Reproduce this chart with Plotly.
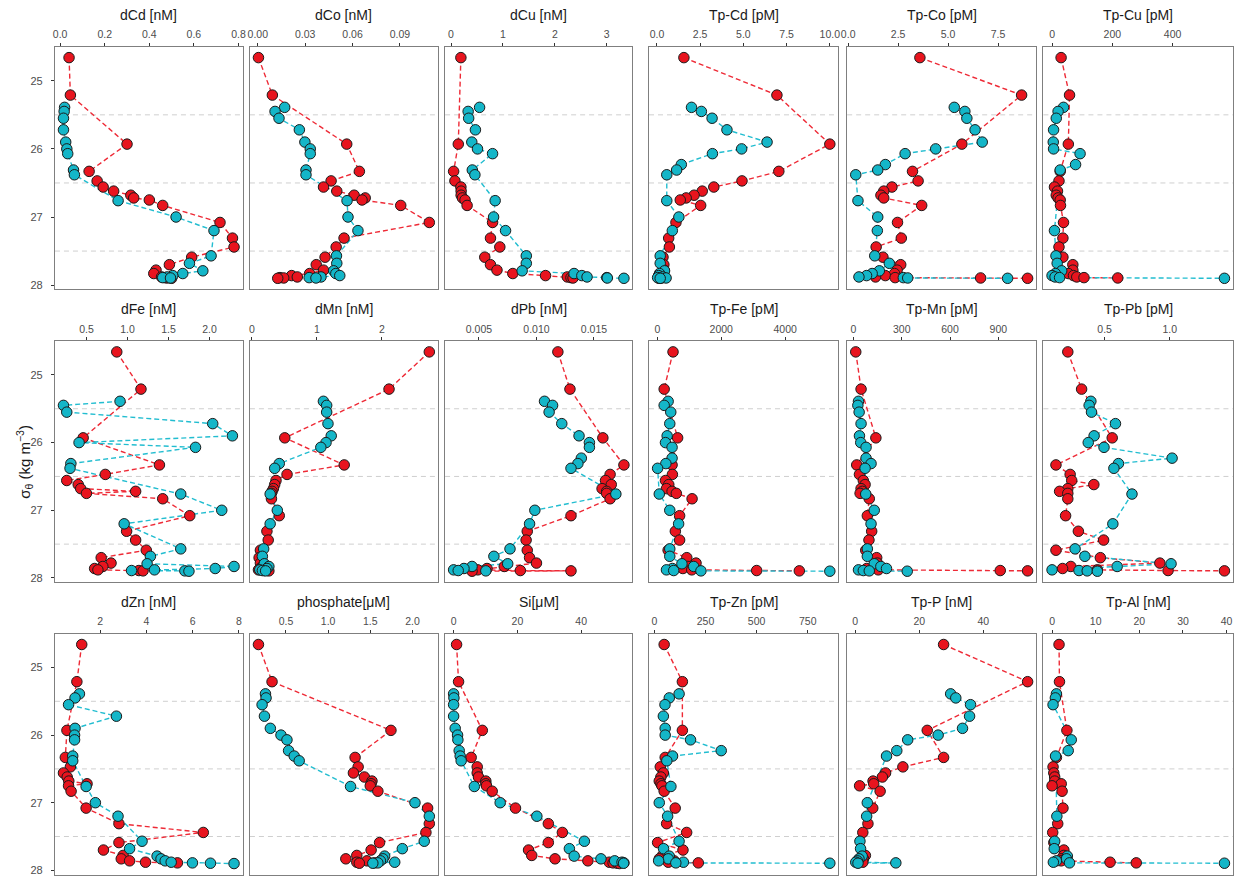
import plotly.graph_objects as go

# ---------------- data ----------------
red_sigma = [24.66, 25.21, 25.93, 26.33, 26.47, 26.56, 26.62, 26.68, 26.72, 26.75, 26.83, 27.08, 27.31, 27.44,
             27.59, 27.70, 27.78, 27.83, 27.86, 27.88, 27.89, 27.895, 27.90]
cyan_sigma = [25.39, 25.45, 25.55, 25.72, 25.90, 26.00, 26.07, 26.23, 26.31, 26.38, 26.76, 27.00, 27.20, 27.57,
              27.68, 27.79, 27.83, 27.86, 27.88, 27.89, 27.895, 27.90]

titles = ["dCd [nM]", "dCo [nM]", "dCu [nM]", "Tp-Cd [pM]", "Tp-Co [pM]", "Tp-Cu [pM]",
          "dFe [nM]", "dMn [nM]", "dPb [nM]", "Tp-Fe [pM]", "Tp-Mn [pM]", "Tp-Pb [pM]",
          "dZn [nM]", "phosphate[μM]", "Si[μM]", "Tp-Zn [pM]", "Tp-P [nM]", "Tp-Al [nM]"]

dCd_red = [0.04, 0.046, 0.30, 0.13, 0.166, 0.193, 0.24, 0.317, 0.33, 0.40, 0.46, 0.717, 0.773, 0.78, 0.59, 0.49, 0.43, 0.42, None, 0.455, 0.47, 0.48, 0.50]
dCd_cyan = [0.02, 0.018, 0.015, 0.015, 0.025, 0.03, 0.034, None, 0.06, 0.064, 0.26, 0.52, 0.69, 0.677, 0.58, 0.64, 0.55, 0.505, 0.48, 0.46, 0.495, None]
dCo_red = [0.0004, 0.0092, 0.0563, 0.0643, 0.0464, 0.0416, 0.050, 0.061, 0.068, 0.066, 0.0905, 0.1086, 0.0546, 0.0496, 0.0426, 0.037, 0.0416, 0.0328, 0.0214, 0.025, 0.014, 0.0164, 0.0126]
dCo_cyan = [0.017, 0.0109, 0.0134, 0.0263, 0.0298, 0.0332, 0.0332, None, 0.0305, 0.0305, 0.0565, 0.0571, 0.0634, 0.0498, 0.05, 0.048, 0.0494, 0.0519, 0.04, 0.0325, 0.0368, None]
dCu_red = [0.19, None, 0.14, 0.05, 0.075, 0.19, 0.195, 0.195, 0.22, 0.27, 0.31, 0.80, 0.76, 0.94, 0.65, 0.76, 0.885, 1.19, 1.82, 2.24, 2.31, 2.35, None]
dCu_cyan = [0.55, 0.33, 0.34, 0.47, 0.40, 0.51, 0.80, None, 0.41, 0.46, 0.85, 0.82, 1.05, 1.45, 1.45, 1.37, 2.37, 2.52, 2.62, 3.0, 3.01, 3.33]
TpCd_red = [1.56, 6.94, 10.0, 7.05, 4.92, 3.29, 2.62, 2.15, 1.69, 1.35, 2.53, 1.1, 0.68, 0.72, 0.35, 0.4, 0.42, 0.3, 0.25, 0.15, 0.2, 0.28, 0.12]
TpCd_cyan = [2.0, 2.57, 3.19, 4.05, 6.37, 4.9, 3.21, 1.41, 1.14, 0.57, 0.57, 1.27, 0.89, 0.19, 0.19, 0.44, 0.15, 0.1, 0.34, 0.04, 0.53, 0.19]
TpCo_red = [3.59, 8.68, 5.69, 3.22, 3.50, 2.19, 1.78, 1.64, 1.78, None, 3.68, 2.47, 2.66, 1.40, 1.74, 2.63, 2.45, 2.32, 1.86, 1.37, 2.35, 6.63, 8.98]
TpCo_cyan = [5.31, 5.84, 5.94, 6.35, 6.71, 4.38, 2.85, 1.86, 1.48, 0.38, 0.49, 1.48, 1.46, 1.33, 2.06, 1.56, 1.2, 0.92, 0.54, 2.76, 2.98, 7.98]
TpCu_red = [30, 58, 54, 27, 23, 8, 18, 14, 20, 27, 28, 38, 36, 23, 36, 69, 69, 54, 71, 82, 106, 218, None]
TpCu_cyan = [38, 20, 14, 5, 4, 5, 93, 78, 27, None, None, None, 8, 13, 17, 32, 11, 0, 10, 25, None, 572]

dFe_red = [0.87, 1.165, 0.46, 1.39, 0.73, 0.26, 0.40, 0.43, 1.10, 0.50, 1.43, 1.76, 0.99, 1.10, 1.23, 0.68, 0.80, 0.70, 0.60, 0.64, 1.14, 1.19, None]
dFe_cyan = [0.91, 0.22, 0.26, 2.04, 2.28, 0.41, 1.83, None, 0.31, 0.30, 1.65, 2.15, 0.96, 1.65, 1.28, 1.24, 2.30, 2.07, 1.33, 1.05, 1.70, 1.75]
dMn_red = [2.73, 2.11, 0.505, 1.42, 0.54, 0.37, 0.35, 0.33, 0.31, 0.30, 0.30, 0.42, 0.23, 0.25, 0.13, 0.11, 0.13, 0.16, 0.13, 0.10, 0.19, 0.26, None]
dMn_cyan = [1.10, 1.15, 1.15, 1.17, 1.22, 1.14, 1.06, None, 0.42, 0.35, 0.28, 0.39, 0.28, 0.18, 0.16, 0.19, 0.26, 0.23, 0.12, 0.16, 0.21, None]
dPb_red = [0.01186, 0.01291, 0.01577, 0.0176, 0.0164, 0.0160, 0.0165, 0.0157, 0.0161, 0.0161, 0.0164, 0.0130, 0.0092, 0.0091, 0.0092, 0.0094, 0.0100, 0.0072, 0.0057, 0.0049, 0.0086, 0.0130, 0.0044]
dPb_cyan = [0.0107, 0.0114, 0.0111, 0.0122, 0.0137, 0.0146, 0.0146, 0.0139, 0.0136, 0.0130, 0.0169, 0.00986, 0.0094, 0.0077, 0.0063, 0.0075, 0.0044, 0.0037, 0.0028, 0.0032, 0.0056, None]
TpFe_red = [492, 215, 636, 462, 472, 256, 359, 287, 462, 595, 1088, 698, 564, 698, 339, 923, 1211, 954, 800, 1077, 3109, 4443, None]
TpFe_cyan = [339, 215, 421, 390, 308, 256, 462, 462, 267, 10, 62, 390, 667, 390, 390, 770, 1139, 472, 287, 513, 1365, 5397]
TpMn_red = [14, 47, 139, 20, 37, 61, 72, 47, 55, 41, 98, 86, 113, 96, 76, 144, 148, 129, 82, 154, 912, 1082, None]
TpMn_cyan = [31, 27, 35, 47, 37, 45, 78, 78, 109, 72, 76, 129, 109, 86, 86, 129, 170, 205, 31, 61, 98, 334]
TpPb_red = [0.217, 0.323, 0.558, 0.126, 0.235, 0.247, 0.417, 0.217, 0.154, 0.217, 0.217, 0.20, 0.298, 0.492, 0.126, 0.467, 0.924, 0.24, 0.177, 0.444, 0.987, 1.42, None]
TpPb_cyan = [0.394, 0.381, 0.399, 0.583, 0.419, 0.374, 0.495, 1.018, 0.606, 0.571, 0.71, None, 0.563, 0.273, 0.348, 1.01, 0.596, None, 0.096, 0.303, 0.366, 0.444]

dZn_red = [1.2, 0.99, 0.56, 0.49, 0.71, 0.41, 0.57, 0.64, 1.43, 0.63, 0.74, 1.39, 2.81, 6.46, 2.81, 2.14, 2.99, 2.91, 3.27, 3.96, 5.34, None, None]
dZn_cyan = [1.1, 0.91, 0.63, 2.7, 0.91, 0.89, 0.89, None, 0.81, 0.81, 1.39, 1.79, 2.77, 3.81, 3.27, 4.46, 4.63, 4.81, 5.07, 5.99, 6.77, 7.79]
phos_red = [0.174, 0.335, 1.745, 1.32, 1.356, 1.30, 1.43, 1.52, 1.51, 1.50, 1.59, 2.18, 2.20, 2.16, 1.61, 1.51, 1.34, 1.21, 1.46, 1.34, 1.55, 1.37, None]
phos_cyan = [0.257, 0.264, 0.217, 0.245, 0.315, 0.441, 0.512, 0.531, 0.598, 0.657, 1.266, 2.03, 2.20, 2.14, 1.88, 1.67, 1.65, 1.62, 1.79, 1.59, 1.53, None]
Si_red = [0.93, 1.55, 9.0, 5.5, 7.4, 7.4, 7.8, 10.1, 10.1, 10.3, 12.1, 19.4, 29.7, 34.1, 29.7, 23.5, 24.5, 31.8, 42.1, 48.8, 50.0, 51.3, 52.0]
Si_cyan = [0.0, 0.1, 0.0, 0.0, 0.5, 1.24, 1.34, 1.75, 2.06, 2.37, 6.5, 14.6, 26.1, 41.0, 36.3, 37.8, 46.2, 50.5, 52.8, 53.4, 53.3, None]
TpZn_red = [48, 137, 137, 53, 29, 44, 32, 24, 32, 37, 48, 102, 60, 158, 16, 140, 40, 24, 97, 68, 215, None, None]
TpZn_cyan = [121, 73, 52, 44, 53, 53, 177, 327, 89, 61, 81, 24, 65, 121, 45, 73, 68, 21, 142, 105, 858, None]
TpP_red = [27.6, 53.8, 22.5, 27.6, 14.9, 9.5, 8.5, 5.6, 5.8, 1.4, 7.8, 5.5, 4.0, 2.4, None, None, 3.2, 2.6, 1.2, 2.4, None, None, None]
TpP_cyan = [29.8, 31.4, 36.0, 35.7, 33.5, 25.9, 16.4, 13.0, 9.8, None, None, 3.8, 3.6, 1.5, 1.7, 2.2, 1.2, 0.7, 0.2, 12.7, 0.9, None]
TpAl_red = [1.6, 1.7, 3.4, 1.0, 0.23, 0.4, 0.6, 0.6, 2.1, 0.0, 2.3, 2.5, 1.3, 0.15, 0.4, 2.7, 2.7, 2.1, 2.1, 13.3, 19.3, None, None]
TpAl_cyan = [1.0, 0.76, 0.23, None, None, None, 4.4, 3.7, 0.8, None, None, None, 1.1, 0.6, 0.5, 3.5, 3.3, 1.0, 0.3, 4.0, 39.5, None]

tick_labels = [
    ["0.0", "0.2", "0.4", "0.6", "0.8"], ["0.00", "0.03", "0.06", "0.09"], ["0", "1", "2", "3"],
    ["0.0", "2.5", "5.0", "7.5", "10.0"], ["0.0", "2.5", "5.0", "7.5"], ["0", "200", "400"],
    ["0.5", "1.0", "1.5", "2.0"], ["0", "1", "2"], ["0.005", "0.010", "0.015"],
    ["0", "2000", "4000"], ["0", "300", "600", "900"], ["0.5", "1.0"],
    ["2", "4", "6", "8"], ["0.5", "1.0", "1.5", "2.0"], ["0", "20", "40"],
    ["0", "250", "500", "750"], ["0", "20", "40"], ["0", "10", "20", "30", "40"],
]
y_ticks = [25, 26, 27, 28]
ref_levels = [25.5, 26.5, 27.5]

red_series = [dCd_red, dCo_red, dCu_red, TpCd_red, TpCo_red, TpCu_red,
              dFe_red, dMn_red, dPb_red, TpFe_red, TpMn_red, TpPb_red,
              dZn_red, phos_red, Si_red, TpZn_red, TpP_red, TpAl_red]
cyan_series = [dCd_cyan, dCo_cyan, dCu_cyan, TpCd_cyan, TpCo_cyan, TpCu_cyan,
               dFe_cyan, dMn_cyan, dPb_cyan, TpFe_cyan, TpMn_cyan, TpPb_cyan,
               dZn_cyan, phos_cyan, Si_cyan, TpZn_cyan, TpP_cyan, TpAl_cyan]

# ---------------- layout geometry (pixels) ----------------
W, H = 1243, 878
col_px = [(49.3, 238.3), (245.7, 435.0), (442.3, 631.0), (647.7, 838.5), (847.3, 1037.7), (1045.0, 1236.0)]
row_px = [(46.7, 290.0), (341.7, 583.5), (635.0, 876.5)]
title_y = [15, 310, 603]

RED = "#E8141E"
CYAN = "#14B6C8"
RED_LINE = "#EE2A36"
CYAN_LINE = "#22BDD0"
FONT = "Liberation Sans, Arial, sans-serif"

fig = go.Figure()
layout = dict(width=W, height=H, autosize=False, margin=dict(l=0, r=0, t=0, b=0),
              paper_bgcolor="white", plot_bgcolor="white", showlegend=False,
              font=dict(family=FONT))
annotations = []
shapes = []

all_sigma = red_sigma + cyan_sigma
smin, smax = min(all_sigma), max(all_sigma)
spad = 0.05 * (smax - smin)
yrange = [smax + spad, smin - spad]


def pairs(vals, sig):
    xs, ys = [], []
    for v, s in zip(vals, sig):
        if v is not None:
            xs.append(v)
            ys.append(s)
    return xs, ys


for i in range(18):
    k = i + 1
    r, c = divmod(i, 6)
    xname = "x" if k == 1 else f"x{k}"
    yname = "y" if k == 1 else f"y{k}"
    rx, ry = pairs(red_series[i], red_sigma)
    cx, cy = pairs(cyan_series[i], cyan_sigma)
    vals = rx + cx
    lo, hi = min(vals), max(vals)
    pad = 0.05 * (hi - lo)
    xr = [lo - pad, hi + pad]

    # lines first (under all points)
    for xs, ys, col in ((rx, ry, RED_LINE), (cx, cy, CYAN_LINE)):
        fig.add_trace(go.Scatter(x=xs, y=ys, mode="lines", xaxis=xname, yaxis=yname,
                                 line=dict(color=col, width=1.4, dash="5px,3px"),
                                 hoverinfo="skip"))
    for xs, ys, col in ((rx, ry, RED), (cx, cy, CYAN)):
        fig.add_trace(go.Scatter(x=xs, y=ys, mode="markers", xaxis=xname, yaxis=yname,
                                 marker=dict(color=col, size=10.5, line=dict(color="#1a1a1a", width=1))))

    l, rr = col_px[c]
    t, b = row_px[r]
    tl = tick_labels[i]
    layout["xaxis" if k == 1 else f"xaxis{k}"] = dict(
        domain=[l / W, rr / W], anchor=yname, side="top", range=xr,
        tickvals=[float(v) for v in tl], ticktext=tl,
        ticks="outside", ticklen=3, tickwidth=1, tickcolor="#333333",
        tickfont=dict(size=10.5, color="#4d4d4d", family=FONT),
        showline=True, mirror=True, linecolor="#7f7f7f", linewidth=1,
        showgrid=False, zeroline=False)
    layout["yaxis" if k == 1 else f"yaxis{k}"] = dict(
        domain=[1 - b / H, 1 - t / H], anchor=xname, range=yrange,
        tickvals=y_ticks, ticktext=[str(v) for v in y_ticks],
        showticklabels=(c == 0), ticks="outside" if c == 0 else "",
        ticklen=3, tickwidth=1, tickcolor="#333333", ticklabelstandoff=6,
        tickfont=dict(size=11, color="#4d4d4d", family=FONT),
        showline=True, mirror=True, linecolor="#7f7f7f", linewidth=1,
        showgrid=False, zeroline=False)

    xdom = "x domain" if k == 1 else f"x{k} domain"
    for lev in ref_levels:
        shapes.append(dict(type="line", xref=xdom, x0=0, x1=1, yref=yname, y0=lev, y1=lev,
                           line=dict(color="#cfcfcf", width=1, dash="5px,4px"), layer="below"))

    annotations.append(dict(text=titles[i], x=(l + rr) / 2 / W, y=1 - title_y[r] / H,
                            xref="paper", yref="paper", showarrow=False,
                            xanchor="center", yanchor="middle",
                            font=dict(size=14, color="#1a1a1a", family=FONT)))

annotations.append(dict(text="σ<sub>θ</sub> (kg m<sup>−3</sup>)", x=19 / W, y=1 - 463 / H,
                        xref="paper", yref="paper", showarrow=False, textangle=-90,
                        xanchor="center", yanchor="middle",
                        font=dict(size=15, color="#1a1a1a", family=FONT)))

layout["annotations"] = annotations
layout["shapes"] = shapes
fig.update_layout(**layout)

fig.write_html("out.html", config={"displayModeBar": False},
               post_script="document.body.style.margin='0';")
